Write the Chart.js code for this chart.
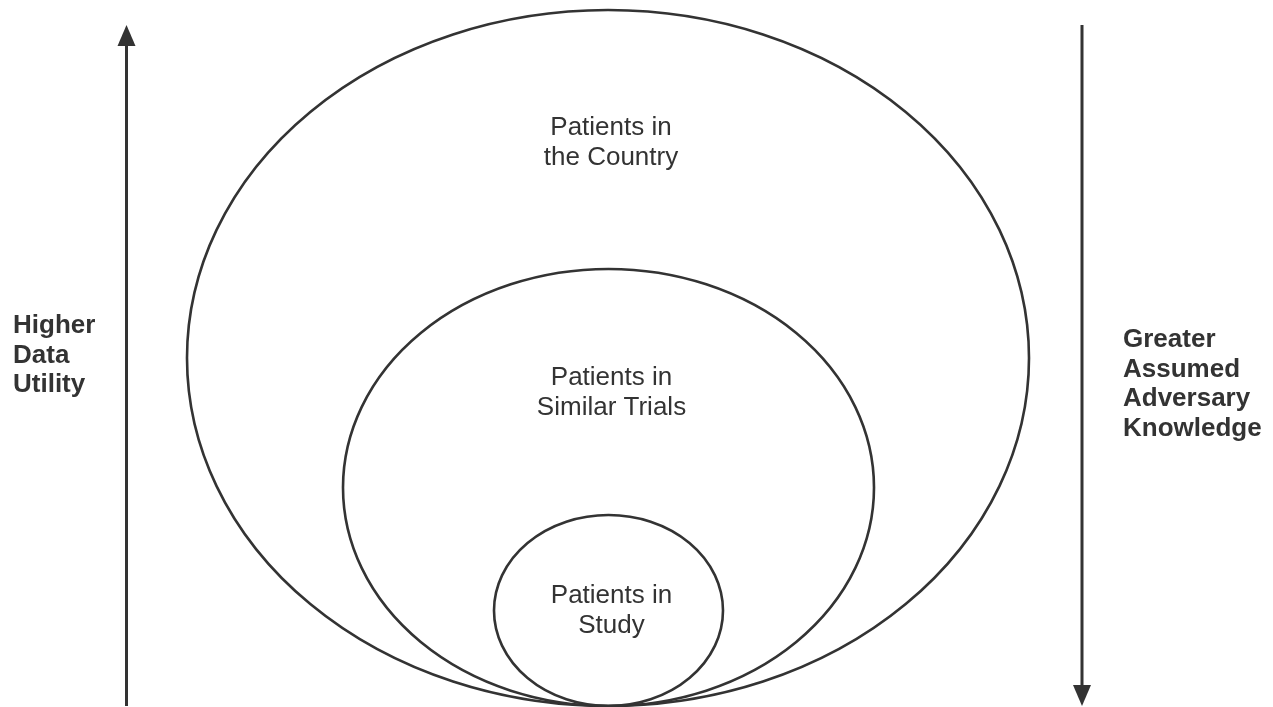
<!DOCTYPE html>
<html>
<head>
<meta charset="utf-8">
<script src="https://cdn.jsdelivr.net/npm/chart.js@4.4.1/dist/chart.umd.min.js"></script>
<style>
  html, body { margin: 0; padding: 0; background: #fff; }
  #wrap { width: 1273px; height: 707px; }
</style>
</head>
<body>
<div id="wrap"><canvas id="c"></canvas></div>
<script>
// diagram space is 0..1273 wide, 0..707 tall (y grows downward)
const circleNames = ['Patients in the Country', 'Patients in Similar Trials', 'Patients in Study'];
const circleCx = [608, 608.5, 608.5];
const circleCy = [358, 487.5, 610.5];
const circleRx = [421, 265.5, 114.5];
const circleRy = [348, 218.5, 95.5];
const circleLabels = [['Patients in', 'the Country'], ['Patients in', 'Similar Trials'], ['Patients in', 'Study']];
const circleLabelY = [128, 378, 596];

const arrowX = [126.5, 1082];
const arrowFrom = [706, 25];
const arrowTo = [25, 706];
const sideLabels = [['Higher', 'Data', 'Utility'], ['Greater', 'Assumed', 'Adversary', 'Knowledge']];
const sideLabelX = [13, 1123];
const sideLabelY = [326, 340];

const INK = '#333333';

const diagramPlugin = {
  id: 'diagram',
  afterDatasetsDraw(chart) {
    const { ctx, scales: { x, y } } = chart;
    ctx.save();
    // ellipses
    ctx.strokeStyle = INK;
    ctx.lineWidth = 2.6;
    circleCx.forEach((cx, i) => {
      const px = x.getPixelForValue(cx);
      const py = y.getPixelForValue(circleCy[i]);
      const rx = Math.abs(x.getPixelForValue(cx + circleRx[i]) - px);
      const ry = Math.abs(y.getPixelForValue(circleCy[i] + circleRy[i]) - py);
      ctx.beginPath();
      ctx.ellipse(px, py, rx, ry, 0, 0, Math.PI * 2);
      ctx.stroke();
    });
    // arrow heads
    ctx.fillStyle = INK;
    arrowX.forEach((ax, i) => {
      const px = x.getPixelForValue(ax);
      const tip = y.getPixelForValue(arrowTo[i]);
      const dir = arrowTo[i] < arrowFrom[i] ? 1 : -1;
      ctx.beginPath();
      ctx.moveTo(px, tip);
      ctx.lineTo(px - 9, tip + dir * 21);
      ctx.lineTo(px + 9, tip + dir * 21);
      ctx.closePath();
      ctx.fill();
    });
    // labels in ellipses
    ctx.textAlign = 'center';
    ctx.textBaseline = 'middle';
    ctx.font = '26px "Liberation Sans", Arial, sans-serif';
    circleLabels.forEach((lines, i) => {
      lines.forEach((t, j) => {
        ctx.fillText(t, x.getPixelForValue(circleCx[i] + 3), y.getPixelForValue(circleLabelY[i] + j * 30));
      });
    });
    // side labels
    ctx.textAlign = 'left';
    ctx.font = 'bold 26px "Liberation Sans", Arial, sans-serif';
    sideLabels.forEach((lines, i) => {
      lines.forEach((t, j) => {
        ctx.fillText(t, x.getPixelForValue(sideLabelX[i]), y.getPixelForValue(sideLabelY[i] + j * 29.5));
      });
    });
    ctx.restore();
  }
};

new Chart(document.getElementById('c'), {
  type: 'scatter',
  data: {
    datasets: arrowX.map((ax, i) => ({
      label: i === 0 ? 'Higher Data Utility' : 'Greater Assumed Adversary Knowledge',
      data: [{ x: ax, y: arrowFrom[i] }, { x: ax, y: arrowTo[i] + (arrowTo[i] < arrowFrom[i] ? 18 : -18) }],
      showLine: true,
      borderColor: INK,
      borderWidth: 3,
      pointRadius: 0,
      fill: false
    }))
  },
  plugins: [diagramPlugin],
  options: {
    responsive: true,
    maintainAspectRatio: false,
    animation: false,
    layout: { padding: 0 },
    plugins: { legend: { display: false }, tooltip: { enabled: false } },
    scales: {
      x: { type: 'linear', min: 0, max: 1273, display: false },
      y: { type: 'linear', min: 0, max: 707, reverse: true, display: false }
    }
  }
});
</script>
</body>
</html>
